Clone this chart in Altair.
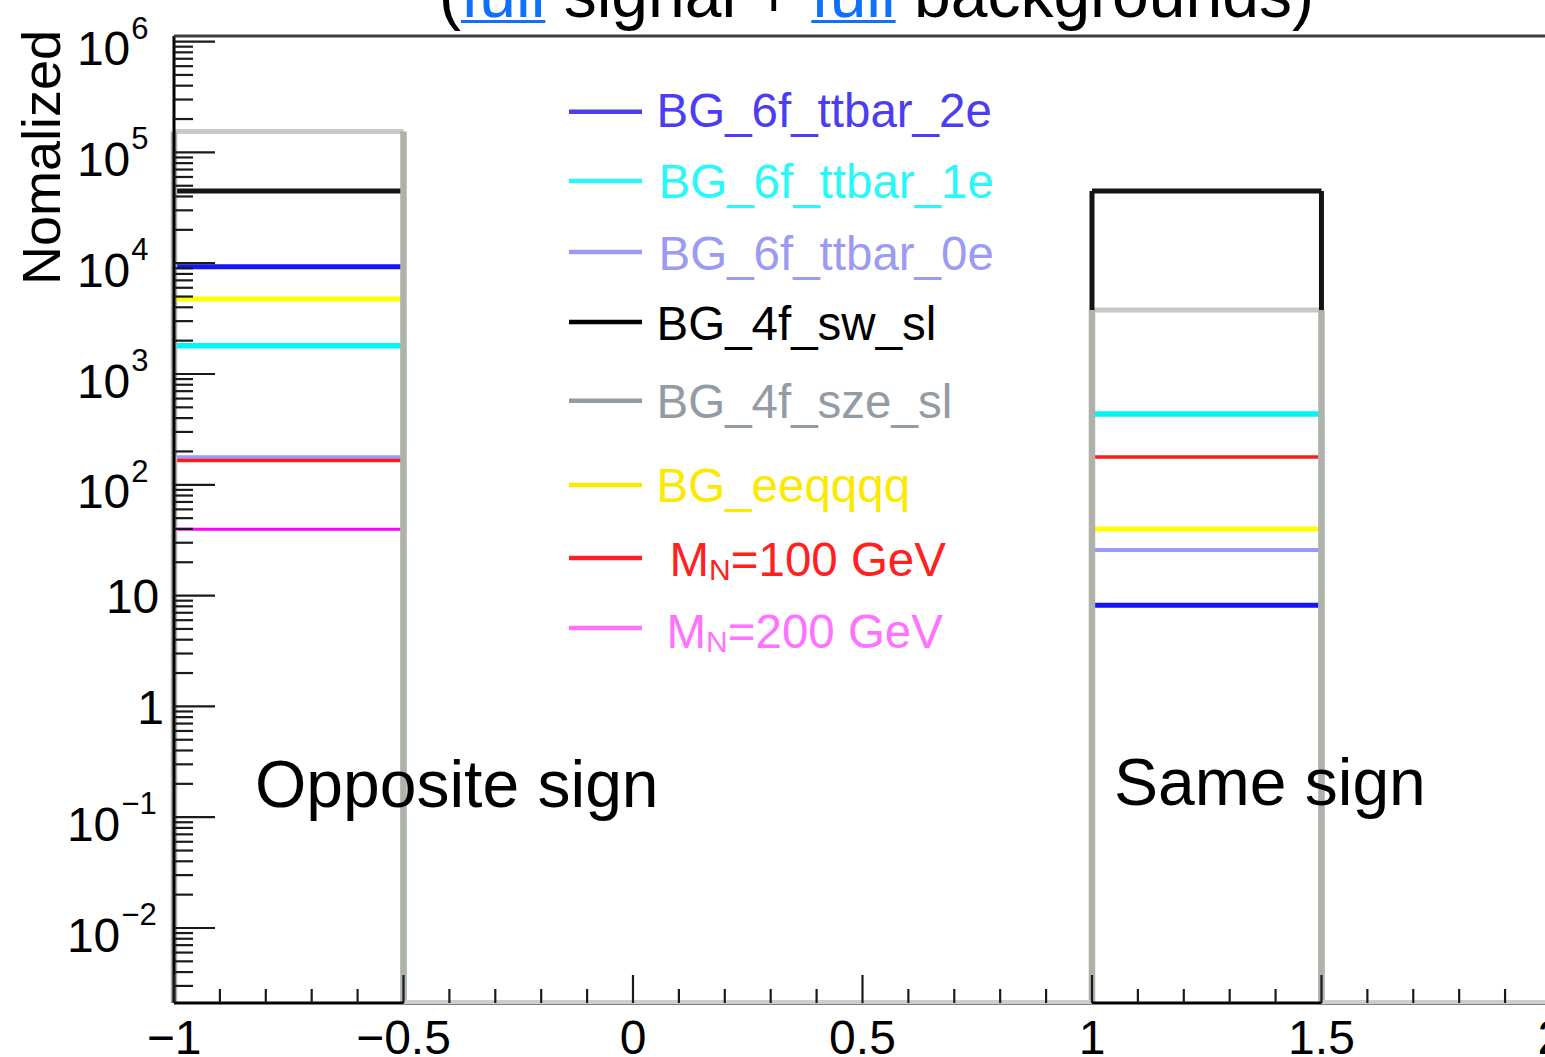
import altair as alt
import pandas as pd

# ------------------------------------------------------------------ data
SERIES = ["BG_6f_ttbar_2e", "BG_6f_ttbar_1e", "BG_6f_ttbar_0e", "BG_4f_sw_sl",
          "BG_4f_sze_sl", "BG_eeqqqq", "MN100", "MN200"]
LEGEND_MAIN = ["BG_6f_ttbar_2e", "BG_6f_ttbar_1e", "BG_6f_ttbar_0e", "BG_4f_sw_sl",
               "BG_4f_sze_sl", "BG_eeqqqq", "M", "M"]
LEGEND_SUB = ["", "", "", "", "", "", "N", "N"]
LEGEND_TAIL = ["", "", "", "", "", "", "=100 GeV", "=200 GeV"]

BIN_EDGES = [-1.0, -0.5, 0.0, 0.5, 1.0, 1.5, 2.0]
OPP_BIN = 0      # bin [-1, -0.5]
SAME_BIN = 4     # bin [1, 1.5]
OPPOSITE_SIGN = [9300, 1800, 177, 44900, 154000, 4750, 166, 39.6]
SAME_SIGN = [8.2, 436, 25.8, 44900, 3780, 39.8, 178, 0]

REGION_LABELS = ["Opposite sign", "Same sign"]
TITLE_PARTS = ["(", "full", "signal +", "full", "backgrounds)"]
Y_LABEL = "Nomalized"
X_MAJOR = [-1.0, -0.5, 0.0, 0.5, 1.0, 1.5, 2.0]
Y_DECADES = list(range(-2, 7))

# ------------------------------------------------------------------ styles
FONT = "Liberation Sans"
LINE_COLOR = {"BG_6f_ttbar_2e": "#1414f5", "BG_6f_ttbar_1e": "#00f5f5",
              "BG_6f_ttbar_0e": "#9a9af8", "BG_4f_sw_sl": "#141414",
              "BG_4f_sze_sl": "#c8c8c8", "BG_eeqqqq": "#ffff00",
              "MN100": "#ff1a1a", "MN200": "#ff00ff"}
EDGE_COLOR = dict(LINE_COLOR, BG_4f_sze_sl="#b0b2aa")
LINE_WIDTH = {"BG_6f_ttbar_2e": 5, "BG_6f_ttbar_1e": 5.5, "BG_6f_ttbar_0e": 4,
              "BG_4f_sw_sl": 5, "BG_4f_sze_sl": 5, "BG_eeqqqq": 5,
              "MN100": 3.5, "MN200": 3}
EDGE_WIDTH = dict(LINE_WIDTH, BG_4f_sze_sl=6.5)
LEG_COLOR = {"BG_6f_ttbar_2e": "#4d3df2", "BG_6f_ttbar_1e": "#2af7f7",
             "BG_6f_ttbar_0e": "#9b9bf3", "BG_4f_sw_sl": "#000000",
             "BG_4f_sze_sl": "#939ba5", "BG_eeqqqq": "#fbe900",
             "MN100": "#ff2020", "MN200": "#ff72ff"}
ARIAL = {"(": .333, ")": .333, "f": .278, "u": .556, "l": .222, " ": .278,
         "s": .5, "i": .222, "g": .556, "n": .556, "a": .556, "+": .584,
         "b": .556, "c": .5, "k": .5, "r": .333, "o": .556, "d": .556,
         "M": .833, "N": .722}


def text_width(s, size):
    return sum(ARIAL.get(ch, .556) for ch in s) * size


W, H = 1371, 967
PAD_LEFT, PAD_TOP = 174, 36
YMIN, YMAX = 10 ** -2.677, 10 ** 6.0505
x_scale = alt.Scale(domain=[-1.0, 1.987], nice=False, zero=False)
y_scale = alt.Scale(type="log", domain=[YMIN, YMAX], nice=False)

# ------------------------------------------------------------------ tables
draw_order = [s for s in SERIES if s != "BG_4f_sze_sl"] + ["BG_4f_sze_sl"]
h_rows, v_rows = [], []
for s in draw_order:
    i = SERIES.index(s)
    for b, v in ((OPP_BIN, OPPOSITE_SIGN[i]), (SAME_BIN, SAME_SIGN[i])):
        if v > 0:
            lo, hi = BIN_EDGES[b], BIN_EDGES[b + 1]
            h_rows.append({"series": s, "lo": lo, "hi": hi, "value": v,
                           "col": LINE_COLOR[s], "w": LINE_WIDTH[s]})
            for e in (lo, hi):
                v_rows.append({"series": s, "edge": e, "value": v,
                               "col": EDGE_COLOR[s], "w": EDGE_WIDTH[s]})
hdf = pd.DataFrame(h_rows)
vdf = pd.DataFrame(v_rows)

gray_i = SERIES.index("BG_4f_sze_sl")
zero_rows = []
for b in range(len(BIN_EDGES) - 1):
    val = OPPOSITE_SIGN[gray_i] if b == OPP_BIN else (SAME_SIGN[gray_i] if b == SAME_BIN else 0)
    if val == 0:
        zero_rows.append({"lo": BIN_EDGES[b], "hi": BIN_EDGES[b + 1]})
zdf = pd.DataFrame(zero_rows)

hist_h = alt.Chart(hdf).mark_rule(strokeCap="butt").encode(
    x=alt.X("lo:Q", scale=x_scale, axis=None), x2="hi:Q",
    y=alt.Y("value:Q", scale=y_scale, axis=None),
    color=alt.Color("col:N", scale=None),
    strokeWidth=alt.StrokeWidth("w:Q", scale=None))
hist_v = alt.Chart(vdf).mark_rule(strokeCap="butt").encode(
    x=alt.X("edge:Q", scale=x_scale, axis=None),
    y=alt.Y("value:Q", scale=y_scale, axis=None), y2=alt.value(H),
    color=alt.Color("col:N", scale=None),
    strokeWidth=alt.StrokeWidth("w:Q", scale=None))

# frame
frame = pd.DataFrame({"k": [0]})
left_line = alt.Chart(frame).mark_rule(color="black", strokeWidth=3).encode(
    x=alt.value(0), y=alt.value(0), y2=alt.value(H))
bottom_line = alt.Chart(frame).mark_rule(color="black", strokeWidth=3).encode(
    x=alt.value(0), x2=alt.value(W), y=alt.value(H))
top_line = alt.Chart(frame).mark_rule(color="#3c3c3c", strokeWidth=3).encode(
    x=alt.value(0), x2=alt.value(W), y=alt.value(0))
gray_bottom = alt.Chart(zdf).mark_rule(color="#cdcdcd", strokeWidth=4).encode(
    x=alt.X("lo:Q", scale=x_scale, axis=None), x2="hi:Q", y=alt.value(H - 1))

# y ticks
ymaj = pd.DataFrame({"v": [10.0 ** k for k in Y_DECADES]})
ymin_vals = [m * 10.0 ** k for k in range(-3, 6) for m in range(2, 10)
             if YMIN <= m * 10.0 ** k <= YMAX]
ymnr = pd.DataFrame({"v": ymin_vals})
ytick_major = alt.Chart(ymaj).mark_rule(color="#1a1a1a", strokeWidth=2.2).encode(
    y=alt.Y("v:Q", scale=y_scale, axis=None), x=alt.value(0), x2=alt.value(41))
ytick_minor = alt.Chart(ymnr).mark_rule(color="#1a1a1a", strokeWidth=2.2).encode(
    y=alt.Y("v:Q", scale=y_scale, axis=None), x=alt.value(0), x2=alt.value(19))

# x ticks
xmaj = pd.DataFrame({"v": X_MAJOR})
xmin_vals = [round(-1 + 0.1 * i, 1) for i in range(31)]
xmin_vals = [v for v in xmin_vals if abs(v * 2 - round(v * 2)) > 1e-9]
xmnr = pd.DataFrame({"v": xmin_vals})
xtick_major = alt.Chart(xmaj).mark_rule(color="#1a1a1a", strokeWidth=2.2).encode(
    x=alt.X("v:Q", scale=x_scale, axis=None), y=alt.value(H), y2=alt.value(H - 28))
xtick_minor = alt.Chart(xmnr).mark_rule(color="#1a1a1a", strokeWidth=2.2).encode(
    x=alt.X("v:Q", scale=x_scale, axis=None), y=alt.value(H), y2=alt.value(H - 14))

# x labels
xlab = pd.DataFrame({"v": X_MAJOR, "t": [f"{v:g}".replace("-", "\u2212") for v in X_MAJOR]})
xlabels = alt.Chart(xlab).mark_text(font=FONT, fontSize=48, align="center",
                                    baseline="alphabetic", color="black").encode(
    x=alt.X("v:Q", scale=x_scale, axis=None), y=alt.value(1018), text="t:N")

# y labels
plain_rows, base_rows, exp_rows = [], [], []
for k in Y_DECADES:
    v = 10.0 ** k
    if k == 0:
        plain_rows.append({"v": v, "t": "1", "px": -10})
    elif k == 1:
        plain_rows.append({"v": v, "t": "10", "px": -14.7})
    else:
        right = -43.7 if k > 0 else -53.7
        base_rows.append({"v": v, "t": "10", "px": right})
        exp_rows.append({"v": v, "t": str(k).replace("-", "\u2212"), "px": right + 1})
ylab_plain = alt.Chart(pd.DataFrame(plain_rows)).mark_text(
    font=FONT, fontSize=48, align="right", baseline="alphabetic", dy=17.2, color="black").encode(
    x=alt.X("px:Q", scale=None), y=alt.Y("v:Q", scale=y_scale, axis=None), text="t:N")
ylab_base = alt.Chart(pd.DataFrame(base_rows)).mark_text(
    font=FONT, fontSize=48, align="right", baseline="alphabetic", dy=23.7, color="black").encode(
    x=alt.X("px:Q", scale=None), y=alt.Y("v:Q", scale=y_scale, axis=None), text="t:N")
ylab_exp = alt.Chart(pd.DataFrame(exp_rows)).mark_text(
    font=FONT, fontSize=31, align="left", baseline="alphabetic", dy=-2.9, color="black").encode(
    x=alt.X("px:Q", scale=None), y=alt.Y("v:Q", scale=y_scale, axis=None), text="t:N")

ytitle = alt.Chart(pd.DataFrame({"t": [Y_LABEL]})).mark_text(
    font=FONT, fontSize=54, angle=270, align="right", baseline="alphabetic", color="black").encode(
    x=alt.value(-114), y=alt.value(-6), text="t:N")

# title (partly above the page)
TITLE_SIZE = 66
title_colors = ["black", "#0f6fff", "black", "#0f6fff", "black"]
tx = 265
t_rows, u_rows = [], []
for part, col in zip(TITLE_PARTS, title_colors):
    t_rows.append({"t": part, "px": tx, "c": col})
    w = text_width(part, TITLE_SIZE)
    if part == "full":
        u_rows.append({"x1": tx, "x2": tx + w})
    tx += w + (0 if part == "(" else text_width(" ", TITLE_SIZE))
title_text = alt.Chart(pd.DataFrame(t_rows)).mark_text(
    font=FONT, fontSize=TITLE_SIZE, align="left", baseline="alphabetic").encode(
    x=alt.X("px:Q", scale=None), y=alt.value(-19), text="t:N",
    color=alt.Color("c:N", scale=None))
underline = alt.Chart(pd.DataFrame(u_rows)).mark_rule(color="#0f6fff", strokeWidth=3).encode(
    x=alt.X("x1:Q", scale=None), x2="x2:Q", y=alt.value(-14.5))

# region labels
reg = pd.DataFrame({"t": REGION_LABELS, "px": [81, 940], "py": [771, 769]})
region_text = alt.Chart(reg).mark_text(font=FONT, fontSize=66, align="left",
                                       baseline="alphabetic", color="black").encode(
    x=alt.X("px:Q", scale=None), y=alt.Y("py:Q", scale=None), text="t:N")

# legend
LEG_LINE_Y = [75.7, 145, 216, 286, 364.7, 449, 522, 592]
LEG_TEXT_Y = [91, 162, 234, 304, 382, 466, 540, 612]
LEG_TEXT_X = [482.5, 484.5, 484.5, 482.5, 482.5, 482.5, 495.5, 492.5]
LEG_SIZE, LEG_SUB_SIZE = 47.5, 30
leg_lines = pd.DataFrame({"py": LEG_LINE_Y, "c": [LEG_COLOR[s] for s in SERIES]})
legend_lines = alt.Chart(leg_lines).mark_rule(strokeWidth=4.5).encode(
    x=alt.value(395), x2=alt.value(468), y=alt.Y("py:Q", scale=None),
    color=alt.Color("c:N", scale=None))
main_rows, sub_rows = [], []
for i, s in enumerate(SERIES):
    main_rows.append({"t": LEGEND_MAIN[i], "px": LEG_TEXT_X[i], "py": LEG_TEXT_Y[i], "c": LEG_COLOR[s]})
    if LEGEND_SUB[i]:
        xs = LEG_TEXT_X[i] + text_width(LEGEND_MAIN[i], LEG_SIZE)
        sub_rows.append({"t": LEGEND_SUB[i], "px": xs, "py": LEG_TEXT_Y[i] + 4, "c": LEG_COLOR[s]})
        xt = xs + text_width(LEGEND_SUB[i], LEG_SUB_SIZE)
        main_rows.append({"t": LEGEND_TAIL[i], "px": xt, "py": LEG_TEXT_Y[i], "c": LEG_COLOR[s]})
legend_main = alt.Chart(pd.DataFrame(main_rows)).mark_text(
    font=FONT, fontSize=LEG_SIZE, align="left", baseline="alphabetic").encode(
    x=alt.X("px:Q", scale=None), y=alt.Y("py:Q", scale=None), text="t:N",
    color=alt.Color("c:N", scale=None))
legend_sub = alt.Chart(pd.DataFrame(sub_rows)).mark_text(
    font=FONT, fontSize=LEG_SUB_SIZE, align="left", baseline="alphabetic").encode(
    x=alt.X("px:Q", scale=None), y=alt.Y("py:Q", scale=None), text="t:N",
    color=alt.Color("c:N", scale=None))

chart = alt.layer(
    hist_h, hist_v, bottom_line, gray_bottom, left_line, top_line,
    ytick_major, ytick_minor, xtick_major, xtick_minor,
    xlabels, ylab_plain, ylab_base, ylab_exp, ytitle,
    title_text, underline, region_text,
    legend_lines, legend_main, legend_sub,
).resolve_scale(
    x="independent", y="independent", color="independent", strokeWidth="independent"
).properties(
    width=W, height=H,
    autosize=alt.AutoSizeParams(type="none"),
    padding={"left": PAD_LEFT, "top": PAD_TOP, "right": 0, "bottom": 54},
    background="white",
).configure_view(strokeWidth=0)

chart.save("out.html", embed_options={"renderer": "svg", "actions": False})
